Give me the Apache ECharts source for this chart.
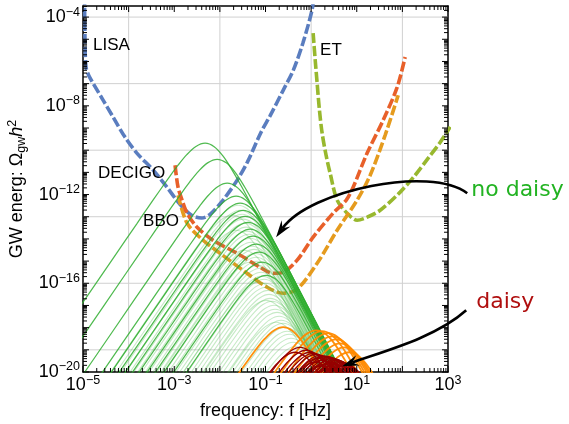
<!DOCTYPE html>
<html>
<head>
<meta charset="utf-8">
<title>GW spectra and detector sensitivities</title>
<script src="https://cdn.jsdelivr.net/npm/echarts@6.0.0/dist/echarts.min.js"></script>
<style>
  html, body { margin: 0; padding: 0; background: #fff; }
  #chart { width: 569px; height: 424px; }
</style>
</head>
<body>
<div id="chart"></div>
<script>
// Axis ranges, as log10 exponents
const X_EXP_RANGE = [-5, 3];
const Y_EXP_RANGE = [-20, -3.5];
const X_GRID_EXPS = [-4, -2, 0, 2];
const Y_GRID_EXPS = [-19, -16, -13, -10, -7, -4];

// Detector sensitivity curves: [log10 f/Hz, log10 Omega_gw h^2]
const lisaCurve = [[-4.967,-3.0],[-4.956,-5.04],[-4.934,-6.26],[-4.868,-6.66],[-4.78,-6.98],[-4.56,-7.74],[-4.34,-8.51],[-4.08,-9.41],[-3.82,-10.13],[-3.46,-10.90],[-3.16,-11.67],[-2.87,-12.45],[-2.62,-12.93],[-2.40,-13.06],[-2.21,-12.88],[-1.93,-12.25],[-1.62,-11.35],[-1.40,-10.55],[-1.10,-9.20],[-0.90,-8.45],[-0.61,-7.29],[-0.39,-6.39],[-0.18,-5.17],[0.02,-3.68],[0.06,-3.0]];
const etCurve = [[0.044,-4.72],[0.09,-5.95],[0.132,-6.98],[0.18,-8.15],[0.241,-9.23],[0.33,-10.25],[0.417,-11.04],[0.570,-12.25],[0.789,-12.84],[1.009,-13.16],[1.228,-13.02],[1.513,-12.71],[1.952,-11.89],[2.28,-11.13],[2.566,-10.36],[2.83,-9.64],[3.05,-8.95]];
const decigoCurve = [[-2.982,-10.68],[-2.917,-11.67],[-2.829,-12.25],[-2.719,-12.84],[-2.500,-13.47],[-2.149,-14.06],[-1.623,-14.65],[-1.118,-15.28],[-0.833,-15.55],[-0.614,-15.50],[-0.307,-14.96],[0.044,-13.92],[0.482,-12.84],[0.77,-12.25],[0.921,-11.67],[1.228,-10.13],[1.579,-8.65],[1.886,-7.16],[2.061,-5.80]];
const bboCurve = [[-2.917,-12.03],[-2.719,-13.29],[-2.368,-14.06],[-1.996,-14.65],[-1.404,-15.55],[-0.965,-16.18],[-0.614,-16.45],[-0.307,-16.27],[0.132,-15.10],[0.570,-13.61],[1.009,-12.25],[1.294,-11.13],[1.623,-9.32],[1.908,-7.52]];

// Spectral shape of one transition, relative to its peak (decades)
const SHAPE_DF = [-4, -3, -2, -1.5, -1.25, -1, -0.8, -0.6, -0.4, -0.2, 0, 0.2, 0.4, 0.6, 0.8, 1, 1.25, 1.5, 2, 2.5, 3, 3.5];
const SHAPE_DO = [-11.15, -8.15, -5.15, -3.65, -2.90, -2.16, -1.58, -1.02, -0.52, -0.15, 0, -0.16, -0.60, -1.24, -1.96, -2.73, -3.72, -4.71, -6.71, -8.71, -10.71, -12.71];

// Peaks of the "no daisy" spectra (log10 f, log10 Omega)
const noDaisyBrightPeakF = [-2.325,-2.060,-1.840,-1.645,-1.557,-1.491,-1.447,-1.381,-1.338,-1.272,-1.206,-1.140,-1.075,-0.987];
const noDaisyBrightPeakO = [-9.68,-10.41,-11.49,-12.07,-12.39,-12.71,-12.98,-13.25,-13.56,-13.88,-14.24,-14.60,-15.05,-15.64];
const noDaisyPalePeakF = [-1.732,-1.645,-1.601,-1.557,-1.513,-1.491,-1.469,-1.447,-1.425,-1.403,-1.360,-1.338,-1.338,-1.316,-1.294,-1.250,-1.228,-1.206,-1.184,-1.162,-1.162,-1.118,-1.097,-1.075,-1.031,-1.009,-0.987,-0.987,-0.943,-0.921,-0.899,-0.855,-0.811,-0.790,-0.768,-0.746,-0.702,-0.658,-0.614,-0.570,-0.526,-0.482,-0.439,-0.395,-0.329];
const noDaisyPalePeakO = [-12.93,-13.61,-12.48,-12.71,-12.89,-13.11,-14.51,-13.29,-13.47,-13.65,-13.79,-13.97,-15.05,-14.15,-14.33,-14.47,-14.65,-14.83,-15.01,-15.19,-15.95,-15.32,-15.50,-15.68,-15.82,-16.00,-16.18,-16.77,-16.32,-16.50,-16.68,-16.81,-16.99,-17.17,-17.76,-17.31,-17.49,-17.67,-17.80,-17.98,-18.16,-18.30,-18.48,-18.66,-18.84];

// Intermediate (orange) spectra
const orangePeakF = [-0.614,0.110,0.241,0.373,0.461,0.548,0.636,0.724,0.833];
const orangePeakO = [-17.98,-18.12,-18.16,-18.25,-18.39,-18.53,-18.71,-18.89,-19.11];

// Peaks of the "daisy" spectra
const daisyPeakF = [-0.351,-0.241,-0.110,-0.022,0.044,0.088,0.110,0.154,0.197,0.197,0.241,0.263,0.307,0.329,0.351,0.373,0.395,0.417,0.439,0.461,0.482,0.504,0.526,0.548,0.570,0.592,0.614,0.658,0.680,0.702,0.746];
const daisyPeakO = [-19.11,-18.89,-19.02,-19.11,-19.16,-19.56,-19.20,-19.38,-19.25,-19.74,-19.47,-19.29,-19.65,-19.29,-19.52,-19.88,-19.34,-19.74,-19.56,-19.38,-19.92,-19.65,-19.43,-19.79,-19.47,-19.70,-19.52,-19.56,-19.74,-19.61,-19.65];

// Annotations (log10 f, log10 Omega)
const detectorLabels = [
  { text: 'LISA', at: [-4.78, -5.26] },
  { text: 'ET', at: [0.197, -5.49] },
  { text: 'DECIGO', at: [-4.67, -11.06] },
  { text: 'BBO', at: [-3.684, -13.22] }
];
const noteLabels = [
  { text: 'no daisy', at: [3.51, -11.80], color: '#22b322' },
  { text: 'daisy', at: [3.62, -16.86], color: '#b00f0f' }
];
const arrowPaths = [
  [[3.421, -11.94], [2.610, -10.68], [-0.022, -11.80], [-0.768, -13.92]],
  [[3.399, -17.22], [2.719, -18.48], [1.513, -19.11], [0.680, -19.74]]
];

// ---------------------------------------------------------------
const FONT = '"Liberation Sans", Arial, Helvetica, sans-serif';
const pow10 = e => Math.pow(10, e);
const X_MIN = pow10(X_EXP_RANGE[0]), X_MAX = pow10(X_EXP_RANGE[1]);
const Y_MIN = pow10(Y_EXP_RANGE[0]), Y_MAX = pow10(Y_EXP_RANGE[1]);

const toData = pts => pts.map(p => [pow10(p[0]), pow10(p[1])]);
const spectrum = (fp, op) => SHAPE_DF.map((d, i) => [pow10(fp + d), pow10(op + SHAPE_DO[i])]);

const series = [];

// light grid lines
X_GRID_EXPS.forEach(e => series.push({
  type: 'line', silent: true, symbol: 'none', z: 1,
  data: [[pow10(e), Y_MIN], [pow10(e), Y_MAX]],
  lineStyle: { color: '#d0d0d0', width: 1 }
}));
Y_GRID_EXPS.forEach(e => series.push({
  type: 'line', silent: true, symbol: 'none', z: 1,
  data: [[X_MIN, pow10(e)], [X_MAX, pow10(e)]],
  lineStyle: { color: '#d0d0d0', width: 1 }
}));

// detector sensitivity curves (dashed)
[[lisaCurve, '#5a7dbf'], [etCurve, '#98b82e'], [bboCurve, '#e59b1e'], [decigoCurve, '#e8602a']].forEach(([c, col]) => series.push({
  type: 'line', symbol: 'none', smooth: 0.3, z: 2, silent: true,
  data: toData(c),
  lineStyle: { color: col, width: 3.6, type: [10, 3], cap: 'butt' }
}));

function addSpectra(fs, os, style, z) {
  fs.forEach((f, i) => series.push({
    type: 'line', symbol: 'none', smooth: 0.35, z, silent: true,
    data: spectrum(f, os[i]),
    lineStyle: style
  }));
}
addSpectra(noDaisyPalePeakF, noDaisyPalePeakO, { color: '#4fbf4f', width: 1.1, opacity: 0.32 }, 3);
addSpectra(noDaisyBrightPeakF, noDaisyBrightPeakO, { color: '#30ae30', width: 1.25, opacity: 0.85 }, 3);
addSpectra(orangePeakF, orangePeakO, { color: '#ff8a00', width: 1.8, opacity: 0.95 }, 4);
addSpectra(daisyPeakF, daisyPeakO, { color: '#960000', width: 1.3, opacity: 1 }, 5);

const supLabel = v => {
  if (Math.abs(v - Math.round(v)) > 1e-9) return '';
  const r = Math.round(v);
  return '{b|10}{s|' + (r < 0 ? '\u2212' : '') + Math.abs(r) + '}';
};
const labelRich = {
  b: { fontSize: 18, fontFamily: FONT, color: '#000' },
  s: { fontSize: 12.5, fontFamily: FONT, color: '#000', padding: [0, 0, 10, 0] }
};

const frameAxis = (pos) => ({
  type: 'log', min: pos === 'bottom' || pos === 'top' ? X_MIN : Y_MIN,
  max: pos === 'bottom' || pos === 'top' ? X_MAX : Y_MAX,
  position: pos,
  axisLine: { show: true, onZero: false, lineStyle: { color: '#000', width: 1.5 } },
  axisTick: { show: false }, axisLabel: { show: false }, splitLine: { show: false }
});

const option = {
  animation: false,
  backgroundColor: '#fff',
  textStyle: { fontFamily: FONT },
  grid: { left: 83, right: 121, top: 6, bottom: 52, outerBoundsMode: 'none' },
  xAxis: [
    frameAxis('bottom'),
    {
      type: 'value', min: X_EXP_RANGE[0], max: X_EXP_RANGE[1], interval: 2, position: 'bottom',
      axisLine: { show: false, onZero: false }, axisTick: { show: false }, splitLine: { show: false },
      axisLabel: { margin: 2, formatter: supLabel, rich: labelRich, showMinLabel: true, showMaxLabel: true, hideOverlap: false },
      name: 'frequency: f [Hz]', nameLocation: 'middle', nameGap: 30,
      nameTextStyle: { fontSize: 18, color: '#000', fontFamily: FONT }
    },
    frameAxis('top')
  ],
  yAxis: [
    frameAxis('left'),
    {
      type: 'value', min: Y_EXP_RANGE[0], max: Y_EXP_RANGE[1], interval: 4, position: 'left',
      axisLine: { show: false, onZero: false }, axisTick: { show: false }, splitLine: { show: false },
      axisLabel: { margin: 3, formatter: supLabel, rich: labelRich, showMinLabel: true, showMaxLabel: true, hideOverlap: false },
      name: 'GW energ: \u03A9{sub|gw}{it|h}{sup|2}', nameLocation: 'middle', nameGap: 54,
      nameTextStyle: {
        fontSize: 18, color: '#000', fontFamily: FONT,
        rich: {
          sub: { fontSize: 12.5, fontFamily: FONT, color: '#000', padding: [8, 0, 0, 0] },
          it: { fontSize: 18, fontFamily: FONT, color: '#000', fontStyle: 'italic' },
          sup: { fontSize: 12.5, fontFamily: FONT, color: '#000', padding: [0, 0, 10, 0] }
        }
      }
    },
    frameAxis('right')
  ],
  series: series.map(s => Object.assign({ xAxisIndex: 0, yAxisIndex: 0 }, s))
};

const chart = echarts.init(document.getElementById('chart'));
chart.setOption(option);

const FINDER = { xAxisIndex: 0, yAxisIndex: 0 };
const toPx = e => chart.convertToPixel(FINDER, [pow10(e[0]), pow10(e[1])]);

// inward log ticks (decade + 2..9 minor) on all four sides, each a short line series
const tickSeries = [];
const addTick = (xe, ye, side, major) => {
  const p = toPx([xe, ye]);
  const len = major ? 6 : 4;
  const q = side === 0 ? [p[0], p[1] - len] : side === 1 ? [p[0], p[1] + len]
          : side === 2 ? [p[0] + len, p[1]] : [p[0] - len, p[1]];
  const qd = chart.convertFromPixel(FINDER, q);
  tickSeries.push({
    type: 'line', xAxisIndex: 0, yAxisIndex: 0, silent: true, symbol: 'none', z: 6, clip: false,
    data: [[pow10(xe), pow10(ye)], qd],
    lineStyle: { color: '#000', width: 1 }
  });
};
for (let n = X_EXP_RANGE[0]; n <= X_EXP_RANGE[1]; n++) {
  for (let k = 1; k <= 9; k++) {
    const e = n + Math.log10(k);
    if (e > X_EXP_RANGE[1] + 1e-9) break;
    addTick(e, Y_EXP_RANGE[0], 0, k === 1);
    addTick(e, Y_EXP_RANGE[1], 1, k === 1);
  }
}
for (let n = Y_EXP_RANGE[0]; n <= Y_EXP_RANGE[1]; n++) {
  for (let k = 1; k <= 9; k++) {
    const e = n + Math.log10(k);
    if (e > Y_EXP_RANGE[1]) break;
    addTick(X_EXP_RANGE[0], e, 2, k === 1);
    addTick(X_EXP_RANGE[1], e, 3, k === 1);
  }
}

// annotations placed through the axes' own scales
const graphics = [];
detectorLabels.forEach(l => {
  const p = toPx(l.at);
  graphics.push({ type: 'text', x: p[0], y: p[1], z: 100,
    style: { text: l.text, font: '17px ' + FONT, fill: '#000', align: 'left', verticalAlign: 'middle' } });
});
noteLabels.forEach(l => {
  const p = toPx(l.at);
  graphics.push({ type: 'text', x: p[0], y: p[1], z: 100,
    style: { text: l.text, font: '22px "DejaVu Sans", Verdana, sans-serif', fill: l.color, align: 'left', verticalAlign: 'middle' } });
});
arrowPaths.forEach(path => {
  const [a, b, c, d] = path.map(toPx);
  const dx = d[0] - c[0], dy = d[1] - c[1];
  const L = Math.hypot(dx, dy), ux = dx / L, uy = dy / L;
  const nx = -uy, ny = ux;
  const head = 17, half = 5.5, notch = 11;
  const end = [d[0] - ux * notch, d[1] - uy * notch];
  graphics.push({ type: 'bezierCurve', z: 100,
    shape: { x1: a[0], y1: a[1], cpx1: b[0], cpy1: b[1], cpx2: c[0], cpy2: c[1], x2: end[0], y2: end[1] },
    style: { stroke: '#000', lineWidth: 2.6, fill: null } });
  const back = [d[0] - ux * head, d[1] - uy * head];
  graphics.push({ type: 'polygon', z: 101,
    shape: { points: [d, [back[0] + nx * half, back[1] + ny * half], end, [back[0] - nx * half, back[1] - ny * half]] },
    style: { fill: '#000' } });
});
chart.setOption({ series: option.series.concat(tickSeries), graphic: { elements: graphics } });
</script>
</body>
</html>
